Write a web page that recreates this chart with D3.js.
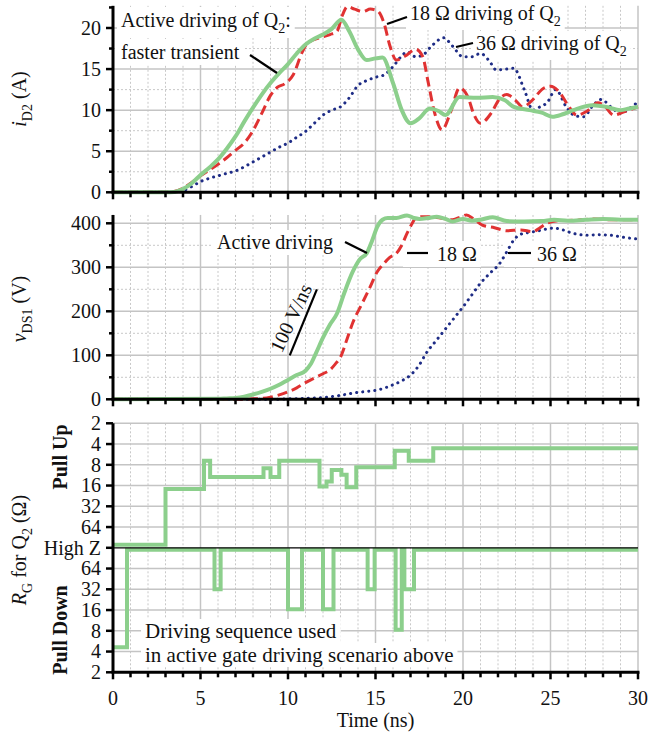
<!DOCTYPE html>
<html><head><meta charset="utf-8">
<script src="https://cdn.jsdelivr.net/npm/d3@7"></script>
<style>
body{margin:0;background:#fff}
svg{display:block}
svg text, svg tspan{font-family:"Liberation Serif","DejaVu Serif","Times New Roman",serif;fill:#111}
</style>
</head><body>
<svg id="c" width="652" height="736" font-family="Liberation Serif, DejaVu Serif, serif"></svg>
<script>
// ---------- DATA ----------
// Time axis ticks (ns)
const timeLabels = [0, 5, 10, 15, 20, 25, 30];
const iMajor = [0, 5, 10, 15, 20];
const iMinor = [2.5, 7.5, 12.5, 17.5, 22.5];
const vMajor = [0, 100, 200, 300, 400];
const vMinor = [50, 150, 250, 350];
const rgLabels = ["2", "4", "8", "16", "32", "64", "High Z", "64", "32", "16", "8", "4", "2"];

// i_D2 (A): active driving (green)
const tIGreen = [0,3,3.5,4,4.5,5,5.5,6,6.5,7,7.5,8,8.5,9,9.5,10,10.5,11,11.5,12,12.5,13.05,13.5,14,14.5,15,15.4,16,16.5,17,17.5,18.1,18.6,19,19.8,20.8,21.7,22.4,22.9,23.8,24.5,25.1,25.7,26.3,27.4,28.2,29,29.5,30];
const iGreen  = [0,0,0.05,0.4,1.1,2.1,3.0,4.0,5.3,6.8,8.6,10.3,11.9,13.3,14.5,15.6,16.9,18.0,18.7,19.2,19.9,21.0,19.6,17.4,16.1,16.3,16.4,13.3,10.0,8.4,9.0,10.2,9.9,9.4,11.6,11.5,11.6,11.2,10.4,10.0,9.7,9.2,9.5,10.0,10.6,10.4,10.0,10.2,10.4];
// i_D2 (A): 18 ohm (red dashed)
const tIRed = [0,3,3.5,4,4.5,5,5.5,6,6.5,7,7.5,8,8.5,9,9.4,9.8,10.3,10.8,11.1,11.8,12.4,12.8,13.1,13.4,13.8,14.3,14.7,15.1,15.5,15.8,16.2,16.7,17.3,17.7,18.0,18.4,18.8,19.3,19.8,20.3,20.6,21,21.6,22.1,22.5,23,23.4,24,24.5,25,25.5,26,26.5,27.1,27.7,28.1,28.6,29.2,30];
const iRed  = [0,0,0.1,0.5,1.2,2.0,2.7,3.4,4.2,5.1,6.0,7.5,9.6,11.8,12.8,13.2,14.3,17.0,18.1,18.8,19.2,19.6,21.5,22.6,22.3,22.0,22.3,22.1,20.5,18.0,16.1,16.6,17.4,16.5,13.5,9.5,7.6,9.8,12.7,11.5,9.6,8.4,9.6,11.4,11.9,11.2,10.4,11.3,12.5,12.9,12.2,10.6,9.4,9.9,10.9,10.5,9.4,9.8,10.4];
// i_D2 (A): 36 ohm (blue dotted)
const tIBlue = [0,3.5,4,4.5,5,5.5,6,6.5,7,7.5,8,8.5,9,9.5,10,10.5,11,11.5,12,12.5,13,13.5,14,14.5,15,15.5,16,16.5,16.8,17.3,17.7,18.2,18.9,19.4,20,20.5,21,21.5,21.9,22.5,22.9,23.5,24,24.4,24.8,25.3,25.9,26.4,26.9,27.4,27.9,28.5,29,29.5,30];
const iBlue  = [0,0,0.2,0.7,1.3,1.7,2.0,2.3,2.6,3.1,3.7,4.3,4.9,5.5,6.0,6.7,7.4,8.4,9.4,10.0,10.4,11.5,13.0,13.6,14.0,14.3,15.3,16.6,17.1,16.5,16.7,17.8,18.8,17.8,16.5,16.5,16.9,16.0,14.9,15.0,15.1,12.5,10.0,10.4,10.9,12.5,10.4,9.3,9.2,10.5,11.3,10.3,9.6,10.2,11.0];

// v_DS1 (V)
const tVGreen = [0,6,6.5,7,7.5,8,8.5,9,9.5,10,10.5,11,11.3,11.6,12,12.4,12.8,13.2,13.7,14.1,14.5,14.8,15.1,15.4,15.7,16.2,16.8,17.2,17.5,18,18.5,19,19.4,20,20.5,21,21.7,22.5,23.5,24.5,25.2,26,27,28,29,30];
const vGreen  = [0,1,2,3,6,11,17,24,33,44,55,65,80,105,140,170,195,240,290,318,332,360,392,408,412,412,418,412,410,412,415,410,404,410,406,408,414,405,404,405,408,406,408,410,408,408];
const tVRed = [0,7.5,8,8.5,9,9.5,10,10.5,11,11.5,12,12.4,12.7,13,13.4,13.7,14.2,14.7,15.1,15.4,15.8,16.2,16.5,16.8,17.1,17.3,17.7,18.1,18.7,19.4,19.9,20.2,20.6,21.1,21.8,22.5,23.3,24,24.4,24.8,25.5,26.5,27.5,28.5,29.5,30];
const vRed  = [0,0,1,2,5,10,17,26,38,48,58,67,80,96,140,174,215,256,290,305,322,332,350,377,400,412,415,415,412,408,415,419,410,396,390,383,385,381,390,400,406,407,410,408,408,408];
const tVBlue = [0,9.5,10,11,12,13,13.7,14.5,15.1,16,16.5,17,17.5,17.9,18.5,19.1,19.6,20,20.5,21,21.5,22.1,22.5,22.9,23.3,23.6,24.2,25.2,25.7,26.3,27.1,27.7,28.4,29.2,30];
const vBlue  = [0,0,1,2,4,9,14,18,21,33,42,55,78,105,135,165,190,210,237,264,285,309,335,362,375,378,382,389,385,377,373,374,373,368,364];

// R_G for Q2: switching instants (ns) and resistance (ohm, or High Z)
const puTimes = [0, 3.0, 5.2, 5.55, 8.6, 9.0, 9.5, 11.8, 12.2, 12.5, 13.05, 13.35, 13.9, 16.1, 16.9, 18.3, 30];
const puOhms  = ["High Z", 18, 7, 12, 9, 12, 7, 16.5, 14, 9.5, 11.2, 17, 8.7, 5, 7, 4.6, 4.6];
const pdTimes = [0, 0.8, 5.8, 6.15, 10.0, 10.8, 12.0, 12.6, 14.55, 14.95, 16.15, 16.5, 16.65, 17.2, 30];
const pdOhms  = [4.6, "High Z", 32, "High Z", 16.5, "High Z", 16.5, "High Z", 32, "High Z", 8.3, "High Z", 32, "High Z", "High Z"];

// ---------- CHART ----------
const FONT = "Liberation Serif, DejaVu Serif, serif";
const svg = d3.select("#c");
const GREEN = "#8ccf8c", RED = "#e03232", BLUE = "#1e2c86";
const GRID = "#c4c4c4";

const x  = d3.scaleLinear().domain([0, 30]).range([113, 638]);
const yI = d3.scaleLinear().domain([0, 20]).range([192.3, 28]);
const yV = d3.scaleLinear().domain([0, 400]).range([399.3, 223.3]);
const yR = d3.scaleLinear().domain([0, 12]).range([423.3, 672.3]);
const iTop = 22.7, vTop = 419;

const allNs = d3.range(0, 31);
const minorNs = allNs.filter(d => d % 5 !== 0);

const gGrid = svg.append("g");
const gBox = svg.append("g");
const gData = svg.append("g");
const gAxis = svg.append("g").attr("font-family", FONT);
const gText = svg.append("g").attr("font-family", FONT);

function vgrid(yTop, yBot) {
  gGrid.selectAll(null).data(minorNs).join("line")
    .attr("x1", d => x(d)).attr("x2", d => x(d)).attr("y1", yTop).attr("y2", yBot)
    .attr("stroke", "#c8c8c8").attr("stroke-width", 1).attr("stroke-dasharray", "2,2");
  gGrid.selectAll(null).data(timeLabels.slice(1)).join("line")
    .attr("x1", d => x(d)).attr("x2", d => x(d)).attr("y1", yTop).attr("y2", yBot)
    .attr("stroke", GRID).attr("stroke-width", 1.5);
}
function hgrid(ys, dotted) {
  gGrid.selectAll(null).data(ys).join("line")
    .attr("x1", x(0)).attr("x2", x(30)).attr("y1", d => d).attr("y2", d => d)
    .attr("stroke", dotted ? "#c8c8c8" : GRID).attr("stroke-width", dotted ? 1 : 1.5)
    .attr("stroke-dasharray", dotted ? "2,2" : null);
}
// panel grids
vgrid(yI(iTop), yI(0));
hgrid(iMinor.filter(d => d < 22).map(yI), true);
hgrid(iMajor.slice(1).map(yI), false);
vgrid(yV(vTop), yV(0));
hgrid(vMinor.map(yV), true);
hgrid(vMajor.slice(1).map(yV), false);
vgrid(yR(0), yR(12));
hgrid(d3.range(0, 12).filter(d => d !== 6).map(yR), false);

// axes
function leftAxis(scale, major, minor, y0, y1, labels) {
  const g = gAxis.append("g");
  g.append("line").attr("x1", 113).attr("x2", 113).attr("y1", y0).attr("y2", y1)
    .attr("stroke", "#000").attr("stroke-width", 3);
  g.selectAll(null).data(major).join("line")
    .attr("x1", 106).attr("x2", 113).attr("y1", d => scale(d)).attr("y2", d => scale(d))
    .attr("stroke", "#000").attr("stroke-width", 2.5);
  g.selectAll(null).data(minor).join("line")
    .attr("x1", 109).attr("x2", 113).attr("y1", d => scale(d)).attr("y2", d => scale(d))
    .attr("stroke", "#000").attr("stroke-width", 2.5);
  g.selectAll(null).data(major).join("text")
    .attr("x", 101).attr("y", d => scale(d)).attr("dy", "0.34em")
    .attr("text-anchor", "end").attr("font-size", 20).attr("font-family", FONT)
    .text((d, i) => labels ? labels[i] : d);
}
function bottomAxis(yPos, withLabels) {
  const g = gAxis.append("g");
  g.append("line").attr("x1", x(0) - 1.5).attr("x2", x(30) + 1.5).attr("y1", yPos).attr("y2", yPos)
    .attr("stroke", "#000").attr("stroke-width", 3);
  g.selectAll(null).data(allNs).join("line")
    .attr("x1", d => x(d)).attr("x2", d => x(d)).attr("y1", yPos)
    .attr("y2", d => yPos + (d % 5 === 0 ? 7 : 5))
    .attr("stroke", "#000").attr("stroke-width", 2.5);
  if (withLabels) {
    g.selectAll(null).data(timeLabels).join("text")
      .attr("x", d => x(d)).attr("y", 705).attr("text-anchor", "middle").attr("font-size", 20)
      .attr("font-family", FONT).text(d => d);
  }
}
leftAxis(yI, iMajor, iMinor, yI(iTop), yI(0));
bottomAxis(yI(0), false);
leftAxis(yV, vMajor, vMinor, yV(vTop), yV(0));
bottomAxis(yV(0), false);
leftAxis(yR, d3.range(0, 13), [], yR(0), yR(12), rgLabels);
bottomAxis(yR(12), true);

// data lines
function drawLine(ts, vs, ys, color, dash, width) {
  gData.append("path").datum(d3.zip(ts, vs))
    .attr("d", d3.line().x(d => x(d[0])).y(d => ys(d[1])).curve(d3.curveMonotoneX))
    .attr("fill", "none").attr("stroke", color).attr("stroke-width", width)
    .attr("stroke-dasharray", dash).attr("stroke-linecap", dash === "0.1,6" ? "round" : "butt")
    .attr("stroke-linejoin", "round");
}
drawLine(tIBlue, iBlue, yI, BLUE, "0.1,6", 3);
drawLine(tIRed, iRed, yI, RED, "10,5", 3);
drawLine(tIGreen, iGreen, yI, GREEN, null, 4);
drawLine(tVBlue, vBlue, yV, BLUE, "0.1,6", 3);
drawLine(tVRed, vRed, yV, RED, "10,5", 3);
drawLine(tVGreen, vGreen, yV, GREEN, null, 4);

// gate resistance step traces
const puIdx = r => r === "High Z" ? 6 : Math.log2(r) - 1;
const pdIdx = r => r === "High Z" ? 6 : 13 - Math.log2(r);
function stepLine(ts, rs, idx, off) {
  gData.append("path").datum(d3.zip(ts, rs))
    .attr("d", d3.line().x(d => x(d[0])).y(d => yR(idx(d[1])) + (d[1] === "High Z" ? off : 0)).curve(d3.curveStepAfter))
    .attr("fill", "none").attr("stroke", GREEN).attr("stroke-width", 4).attr("stroke-linejoin", "miter");
}
stepLine(puTimes, puOhms, puIdx, -3);
stepLine(pdTimes, pdOhms, pdIdx, 2);
gData.append("line").attr("x1", x(0)).attr("x2", x(30)).attr("y1", yR(6)).attr("y2", yR(6))
  .attr("stroke", "#000").attr("stroke-width", 1.3);

// ---------- TEXT ----------
function rich(g, px, py, parts, size) {
  size = size || 20;
  const t = g.append("text").attr("x", px).attr("y", py).attr("font-size", size).attr("font-family", FONT);
  let shift = 0;
  parts.forEach(p => {
    const s = t.append("tspan").text(p.t);
    const target = p.sub ? 6 : 0;
    if (target !== shift) { s.attr("dy", target - shift); shift = target; }
    if (p.sub) s.attr("font-size", 14);
    if (p.it) s.attr("font-style", "italic");
    if (p.b) s.attr("font-weight", "bold");
  });
  return t;
}
function boxFor(node, px, py) {
  const b = node.getBBox();
  px = px == null ? 4 : px; py = py == null ? 1 : py;
  gBox.append("rect").attr("x", b.x - px).attr("y", b.y - py)
    .attr("width", b.width + 2 * px).attr("height", b.height + 2 * py).attr("fill", "#fff");
}
function leader(g, x1, y1, x2, y2) {
  g.append("line").attr("x1", x1).attr("y1", y1).attr("x2", x2).attr("y2", y2)
    .attr("stroke", "#000").attr("stroke-width", 2.2);
}

// top annotations
let t1 = rich(gText, 121, 27, [{t: "Active driving of Q"}, {t: "2", sub: true}, {t: ":"}]);
boxFor(t1.node(), 4, 2);
let t2 = rich(gText, 121, 59, [{t: "faster transient"}]);
boxFor(t2.node(), 4, 2);
leader(gText, 250, 55, 277, 73);
let t3 = rich(gText, 410, 20, [{t: "18 Ω driving of Q"}, {t: "2", sub: true}]);
boxFor(t3.node(), 4, 1);
leader(gText, 387, 24, 407, 17);
let t4 = rich(gText, 476, 50, [{t: "36 Ω driving of Q"}, {t: "2", sub: true}]);
boxFor(t4.node(), 4, 1);
leader(gText, 456, 47, 473, 43);

// middle annotations
let g5 = gText.append("g");
rich(g5, 217, 249, [{t: "Active driving"}]);
leader(g5, 345, 242, 367, 253);
boxFor(g5.node(), 4, 1);
let g6 = gText.append("g");
rich(g6, 437, 261, [{t: "18 Ω"}]);
leader(g6, 407, 253, 428, 253);
boxFor(g6.node(), 4, 2);
let g7 = gText.append("g");
rich(g7, 537, 261, [{t: "36 Ω"}]);
leader(g7, 508, 253, 531, 253);
boxFor(g7.node(), 4, 2);
// slope marker
leader(gText, x(10.1), yV(100), x(11.65), yV(250));
gText.append("text").attr("transform", "translate(291,318) rotate(-65)").attr("font-family", FONT)
  .attr("text-anchor", "middle").attr("dy", "0.34em").attr("font-size", 20).text("100 V/ns");

// bottom annotation
let t8 = rich(gText, 145, 638, [{t: "Driving sequence used"}], 21);
boxFor(t8.node(), 4, 0);
let t9 = rich(gText, 145, 662, [{t: "in active gate driving scenario above"}], 21);
boxFor(t9.node(), 4, 0);

// axis titles
function yTitle(cx, cy, parts) {
  const g = gText.append("g").attr("transform", `translate(${cx},${cy}) rotate(-90)`);
  const t = rich(g, 0, 0, parts);
  t.attr("text-anchor", "middle");
  return t;
}
yTitle(26, 99, [{t: "i", it: true}, {t: "D2", sub: true}, {t: " (A)"}]);
yTitle(26, 309, [{t: "v", it: true}, {t: "DS1", sub: true}, {t: " (V)"}]);
yTitle(26, 550, [{t: "R", it: true}, {t: "G", sub: true}, {t: " for Q"}, {t: "2", sub: true}, {t: " (Ω)"}]);
yTitle(67, 457, [{t: "Pull Up", b: true}]);
yTitle(67, 630, [{t: "Pull Down", b: true}]);

gText.append("text").attr("x", (x(0) + x(30)) / 2).attr("y", 727).attr("text-anchor", "middle")
  .attr("font-family", FONT).attr("font-size", 20).text("Time (ns)");
</script>
</body></html>
